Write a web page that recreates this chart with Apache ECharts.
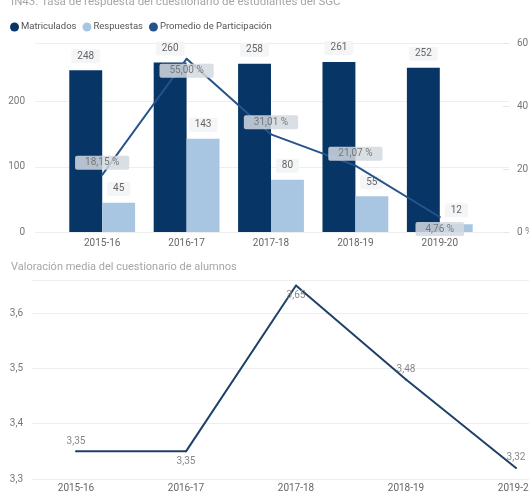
<!DOCTYPE html>
<html>
<head>
<meta charset="utf-8">
<script src="https://cdn.jsdelivr.net/npm/echarts@6/dist/echarts.min.js"></script>
<style>
html,body{margin:0;padding:0;background:#fff;}
#main{width:529px;height:492px;}
</style>
</head>
<body>
<div id="main"></div>
<script>
var cursos = ['2015-16', '2016-17', '2017-18', '2018-19', '2019-20'];
var matriculados = [248, 260, 258, 261, 252];
var respuestas = [45, 143, 80, 55, 12];
var participacion = [18.15, 55.00, 31.01, 21.07, 4.76];
var valoracion = [3.35, 3.35, 3.65, 3.48, 3.32];

// donde va cada etiqueta (arriba / abajo del punto)
var posPart = ['top', 'bottom', 'top', 'top', 'bottom'];
var posVal = ['top', 'bottom', 'bottom', 'top', 'top'];

var FONT = 'Roboto';
var NAVY = '#073666';
var LIGHT = '#a8c6e2';
var LINE1 = '#26538a';
var LINE2 = '#1f4068';

function coma(v, d) {
    return Number(v).toFixed(d).replace('.', ',');
}

var myChart = echarts.init(document.getElementById('main'));

var option = {
    animation: false,
    textStyle: {fontFamily: FONT},
    title: [{
        text: 'IN43. Tasa de respuesta del cuestionario de estudiantes del SGC',
        left: 6, top: -9,
        textStyle: {fontSize: 11.5, fontWeight: 'normal', color: '#a6a6a6', fontFamily: FONT}
    }, {
        text: 'Valoración media del cuestionario de alumnos',
        left: 6, top: 257,
        textStyle: {fontSize: 11, fontWeight: 'normal', color: '#a6a6a6', fontFamily: FONT}
    }],
    legend: {
        left: 5, top: 17,
        icon: 'circle', itemWidth: 9, itemHeight: 9, itemGap: 6,
        textStyle: {fontSize: 9.5, color: '#555', padding: [0, 0, 0, -3]},
        data: ['Matriculados', 'Respuestas', 'Promedio de Participación']
    },
    grid: [
        {left: 35, right: 20, top: 43, bottom: 260, outerBoundsMode: 'none'},   // lineas guia arriba
        {left: 60, right: 47, top: 43, bottom: 260, outerBoundsMode: 'none'},   // barras
        {left: 32, right: 0, top: 280, bottom: 13, outerBoundsMode: 'none'},    // lineas guia abajo
        {left: 21, right: -42, top: 280, bottom: 13, outerBoundsMode: 'none'}   // valoracion
    ],
    xAxis: [
        {gridIndex: 0, type: 'category', data: cursos, show: false},
        {gridIndex: 1, type: 'category', data: cursos,
            axisLine: {show: false}, axisTick: {show: false},
            axisLabel: {color: '#666', fontSize: 10, margin: 6}},
        {gridIndex: 2, type: 'category', data: cursos, show: false},
        {gridIndex: 3, type: 'category', data: cursos,
            axisLine: {show: false}, axisTick: {show: false},
            axisLabel: {color: '#666', fontSize: 10, margin: 4}}
    ],
    yAxis: [
        {gridIndex: 0, type: 'value', min: 0, max: 290, interval: 100,
            axisLine: {show: false}, axisTick: {show: false},
            axisLabel: {color: '#777', fontSize: 10, margin: 10, showMaxLabel: false},
            splitLine: {lineStyle: {color: '#eeeeee'}}},
        {gridIndex: 0, type: 'value', position: 'right', min: 0, max: 60, interval: 20,
            axisLine: {show: false},
            axisTick: {show: true, inside: true, length: 6, lineStyle: {color: '#e6e6e6'}},
            axisLabel: {color: '#777', fontSize: 10, margin: 8, formatter: '{value} %'},
            splitLine: {show: false}},
        {gridIndex: 1, type: 'value', min: 0, max: 290, show: false, splitLine: {show: false}},
        {gridIndex: 1, type: 'value', min: 0, max: 60, show: false, splitLine: {show: false}},
        {gridIndex: 2, type: 'value', min: 3.3, max: 3.66, interval: 0.1,
            axisLine: {show: false}, axisTick: {show: false},
            axisLabel: {color: '#777', fontSize: 10, margin: 9, showMaxLabel: false,
                formatter: function (v) { return coma(v, 1); }},
            splitLine: {lineStyle: {color: '#eeeeee'}}},
        {gridIndex: 3, type: 'value', min: 3.3, max: 3.66, show: false, splitLine: {show: false}}
    ],
    series: [{
        name: 'Matriculados',
        type: 'bar',
        xAxisIndex: 1, yAxisIndex: 2,
        data: matriculados,
        barGap: '0%', barCategoryGap: '22%',
        itemStyle: {color: NAVY},
        label: {
            show: true, position: 'top', distance: 7,
            color: '#666', fontSize: 10,
            backgroundColor: '#f4f5f7', padding: [2, 6], borderRadius: 2
        }
    }, {
        name: 'Respuestas',
        type: 'bar',
        xAxisIndex: 1, yAxisIndex: 2,
        data: respuestas,
        itemStyle: {color: LIGHT},
        label: {
            show: true, position: 'top', distance: 7,
            color: '#666', fontSize: 10,
            backgroundColor: '#f4f5f7', padding: [2, 6], borderRadius: 2
        }
    }, {
        name: 'Promedio de Participación',
        type: 'line',
        xAxisIndex: 1, yAxisIndex: 3,
        data: participacion.map(function (v, i) {
            return {value: v, label: {position: posPart[i]}};
        }),
        symbol: 'circle', symbolSize: 2, showSymbol: true,
        itemStyle: {color: LINE1},
        lineStyle: {color: LINE1, width: 2},
        z: 5,
        label: {
            show: true, distance: 4,
            color: '#777', fontSize: 10,
            backgroundColor: 'rgba(212,217,224,0.85)', padding: [2, 10], borderRadius: 2,
            formatter: function (p) { return coma(p.value, 2) + ' %'; }
        }
    }, {
        name: 'Valoración',
        type: 'line',
        xAxisIndex: 3, yAxisIndex: 5,
        data: valoracion.map(function (v, i) {
            return {value: v, label: {position: posVal[i]}};
        }),
        symbol: 'circle', symbolSize: 2, showSymbol: true,
        itemStyle: {color: LINE2},
        lineStyle: {color: LINE2, width: 2},
        label: {
            show: true, distance: 4,
            color: '#888', fontSize: 10,
            formatter: function (p) { return coma(p.value, 2); }
        }
    }]
};

myChart.setOption(option);
</script>
</body>
</html>
